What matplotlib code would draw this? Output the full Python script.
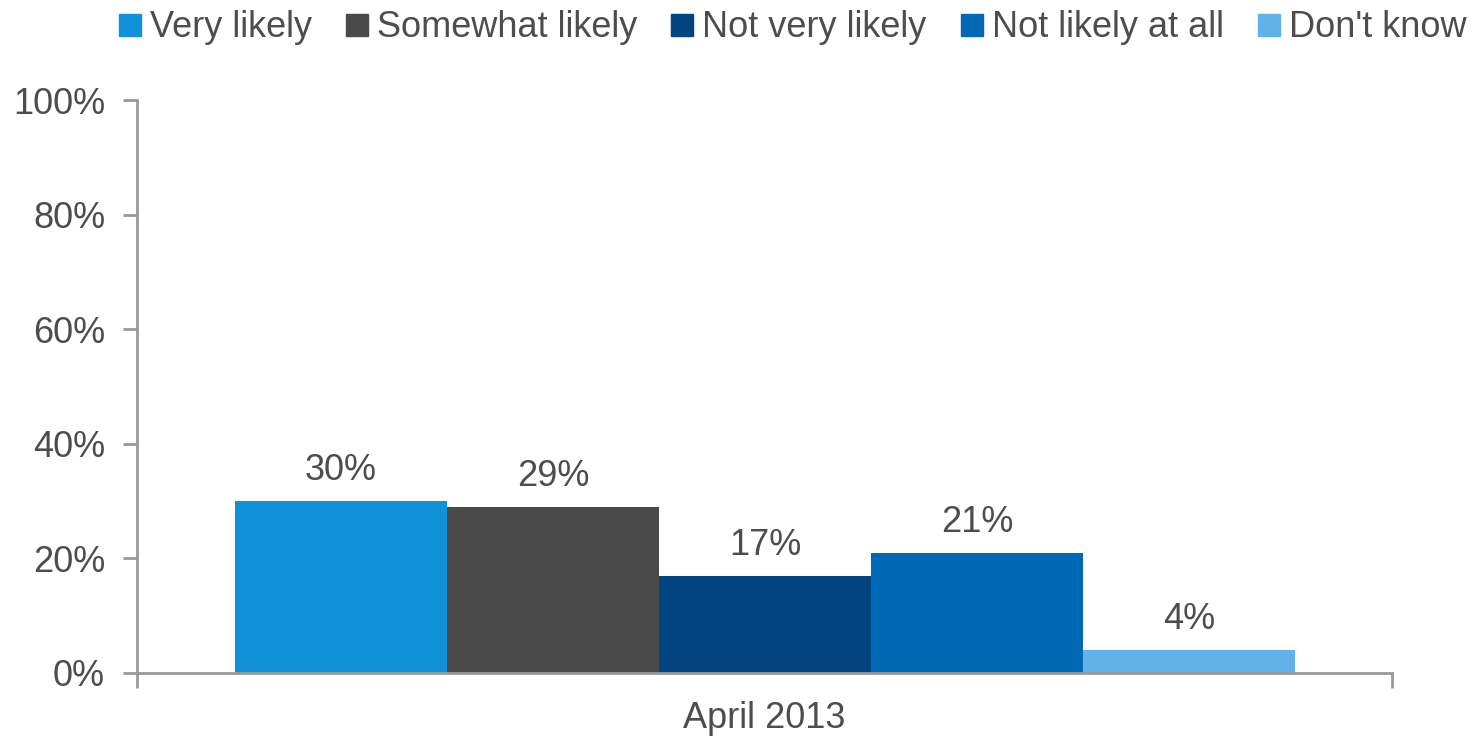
import matplotlib.pyplot as plt
import numpy as np

categories = ['Very likely', 'Somewhat likely', 'Not very likely', 'Not likely at all', "Don't know"]
values = [30, 29, 17, 21, 4]
colors = ['#1192d8', '#4a4a4a', '#00437f', '#0068b4', '#62b2e9']
group_label = 'April 2013'
yticks = [0, 20, 40, 60, 80, 100]

plt.rcParams['font.family'] = ['Liberation Sans', 'DejaVu Sans']
txt = '#4d4d4d'
axis_col = '#999999'
fs = 26

fig = plt.figure(figsize=(14.81, 7.37), dpi=100)
ax = fig.add_axes([0.0925, 0.087, 0.8475, 0.777])

bw = 0.169
x0 = 0.078
xs = x0 + bw * np.arange(len(values)) + bw / 2
for x, v, c, name in zip(xs, values, colors, categories):
    ax.bar(x, v, width=bw, color=c, label=name, zorder=2)
    ax.text(x, v + 2.2, f'{v}%', ha='center', va='bottom', fontsize=fs, color=txt)

ax.set_xlim(0, 1)
ax.set_ylim(0, 100)
ax.set_yticks(yticks)
ax.set_yticklabels([f'{t}%' for t in yticks], fontsize=fs, color=txt)
ax.set_xticks([0, 1])
ax.set_xticklabels(['', ''])
ax.text(0.5, -0.08, group_label, transform=ax.transAxes, ha='center', va='center',
        fontsize=fs, color=txt)

for s in ['top', 'right']:
    ax.spines[s].set_visible(False)
for s in ['left', 'bottom']:
    ax.spines[s].set_color(axis_col)
    ax.spines[s].set_linewidth(2)
ax.tick_params(axis='y', length=10, width=2, color=axis_col, pad=13)
ax.tick_params(axis='x', length=11, width=2, color=axis_col)

handles = [plt.Line2D([], [], marker='s', linestyle='', markersize=16, color=c) for c in colors]
fig.legend(handles, categories, loc='upper right', bbox_to_anchor=(1.012, 1.03), ncol=5,
           frameon=False, fontsize=fs, handlelength=0.6, handletextpad=0.25,
           columnspacing=0.95, labelcolor=txt)

fig.savefig('out.png', dpi=100, facecolor='white')
